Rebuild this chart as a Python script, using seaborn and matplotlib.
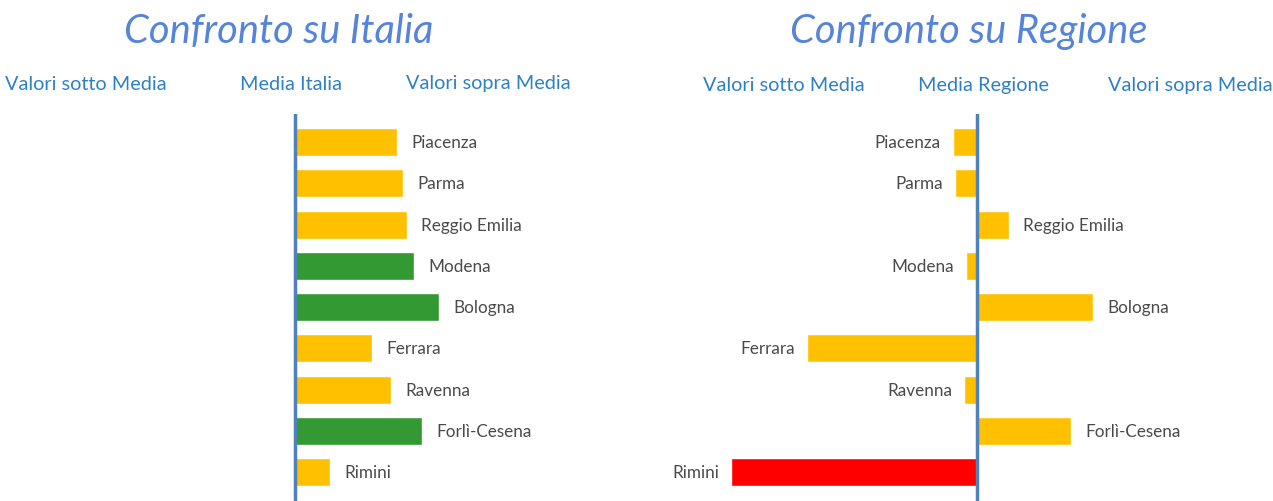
import matplotlib
matplotlib.use("Agg")
import matplotlib.pyplot as plt
import seaborn as sns
import pandas as pd

# Data (bar lengths relative to the mean line)
cities = ["Piacenza", "Parma", "Reggio Emilia", "Modena", "Bologna",
          "Ferrara", "Ravenna", "Forlì-Cesena", "Rimini"]
vs_italia = [102, 108, 112, 119, 144, 77, 96, 127, 35]
vs_regione = [-24, -22, 32, -11, 116, -170, -13, 94, -246]
colors_italia = ["#FFC000", "#FFC000", "#FFC000", "#339933", "#339933",
                 "#FFC000", "#FFC000", "#339933", "#FFC000"]
colors_regione = ["#FFC000"] * 8 + ["#FF0000"]

sns.set_style("white")
plt.rcParams['font.family'] = ['Lato', 'DejaVu Sans']

W, H = 1273, 502
fig = plt.figure(figsize=(W / 100, H / 100), dpi=100)

def px_axes(x0, x1, y0, y1):
    return fig.add_axes([x0 / W, 1 - y1 / H, (x1 - x0) / W, (y1 - y0) / H])

def draw_panel(ax, values, colors, xlim):
    df = pd.DataFrame({"city": cities, "val": values})
    sns.barplot(data=df, y="city", x="val", hue="city", palette=colors,
                legend=False, orient="h", width=0.68, ax=ax, saturation=1)
    ax.set_xlim(*xlim)
    ax.set_ylim(8.7, -0.68)
    ax.axvline(0, color="#4F81BD", lw=2.5, zorder=5)
    # city names next to the bar ends
    for i, v in enumerate(values):
        if v >= 0:
            ax.text(v + 14, i, cities[i], ha="left", va="center",
                    fontsize=12.3, color="#4A4A4A")
        else:
            ax.text(v - 12, i, cities[i], ha="right", va="center",
                    fontsize=12.3, color="#4A4A4A")
    ax.set_axis_off()

ax1 = px_axes(0, 640, 115, 502)
draw_panel(ax1, vs_italia, colors_italia, (-295, 345))

ax2 = px_axes(640, 1273, 115, 502)
draw_panel(ax2, vs_regione, colors_regione, (-337, 296))

title_color = "#5584DA"
head_color = "#2E80C6"

def ftext(x, y, s, **kw):
    fig.text(x / W, 1 - y / H, s, ha="center", va="center", **kw)

ftext(279, 32, "Confronto su Italia", fontsize=28.7, style="italic",
      fontweight="normal", color=title_color)
ftext(969, 32, "Confronto su Regione", fontsize=28.7, style="italic",
      fontweight="normal", color=title_color)

ftext(86, 84, "Valori sotto Media", fontsize=14.3, color=head_color)
ftext(291, 84, "Media Italia", fontsize=14.3, color=head_color)
ftext(488, 84, "Valori sopra Media", fontsize=14.3, color=head_color)
ftext(784, 86, "Valori sotto Media", fontsize=14.3, color=head_color)
ftext(984, 86, "Media Regione", fontsize=14.3, color=head_color)
ftext(1190, 86, "Valori sopra Media", fontsize=14.3, color=head_color)

fig.savefig("out.png", dpi=100)
